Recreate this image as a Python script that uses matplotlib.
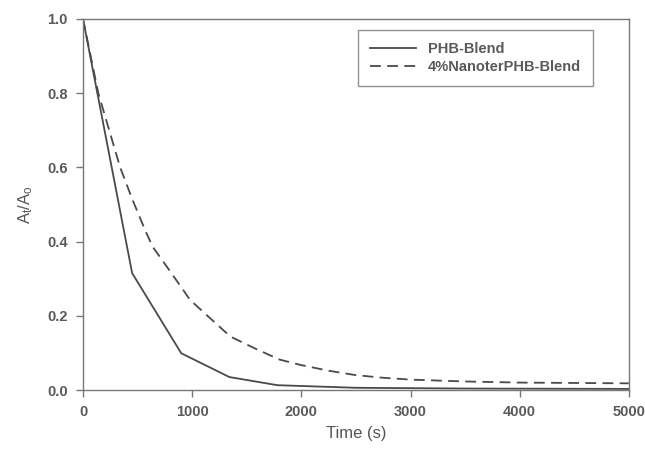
import matplotlib.pyplot as plt

# PHB-Blend (solid)
t_blend = [0, 450, 900, 1340, 1780, 2500, 3500, 5000]
a_blend = [1.0, 0.315, 0.099, 0.035, 0.013, 0.006, 0.004, 0.003]

# 4%NanoterPHB-Blend (dashed)
t_nano = [0, 140, 225, 340, 450, 570, 640, 735, 900, 980, 1125, 1350, 1575,
          1800, 2000, 2250, 2500, 2750, 3000, 3500, 4000, 4500, 5000]
a_nano = [1.0, 0.80, 0.715, 0.60, 0.515, 0.43, 0.385, 0.346, 0.277, 0.243, 0.204,
          0.144, 0.112, 0.082, 0.067, 0.052, 0.040, 0.033, 0.028, 0.023, 0.020,
          0.019, 0.018]

xticks = [0, 1000, 2000, 3000, 4000, 5000]
yticks = [0.0, 0.2, 0.4, 0.6, 0.8, 1.0]

plt.rcParams['font.family'] = ['Liberation Sans', 'DejaVu Sans']
plt.rcParams['mathtext.default'] = 'regular'

fig = plt.figure(figsize=(6.45, 4.5), dpi=100)
ax = fig.add_axes([0.1287, 0.1333, 0.8463, 0.8247])

line_col = '#4a4a4a'
ax.plot(t_blend, a_blend, color=line_col, lw=1.3, label='PHB-Blend')
ax.plot(t_nano, a_nano, color=line_col, lw=1.3, linestyle=(0, (6, 3.5)),
        label='4%NanoterPHB-Blend')

ax.set_xlim(0, 5000)
ax.set_ylim(0, 1.0)
ax.set_xticks(xticks)
ax.set_yticks(yticks)
ax.set_yticklabels(['%.1f' % v for v in yticks])

for s in ax.spines.values():
    s.set_color('#777777')
    s.set_linewidth(1.0)

ax.tick_params(direction='out', length=5, width=1, color='#777777',
               labelcolor='#5a5a5a', labelsize=10.5, pad=6)
for lab in ax.get_xticklabels() + ax.get_yticklabels():
    lab.set_fontweight('bold')

ax.set_xlabel('Time (s)', fontsize=12, color='#555555', labelpad=5)
ax.set_ylabel('A$_t$/A$_o$', fontsize=12, color='#555555', labelpad=9)

leg = ax.legend(loc='upper right', bbox_to_anchor=(0.934, 0.97), fontsize=10.5,
                frameon=True, fancybox=False, handlelength=3.2,
                borderpad=0.8, labelspacing=0.3, handletextpad=0.8,
                borderaxespad=0)
leg.get_frame().set_edgecolor('#777777')
leg.get_frame().set_linewidth(1.0)
for txt in leg.get_texts():
    txt.set_color('#5a5a5a')
    txt.set_fontweight('bold')

fig.savefig('out.png', dpi=100)
